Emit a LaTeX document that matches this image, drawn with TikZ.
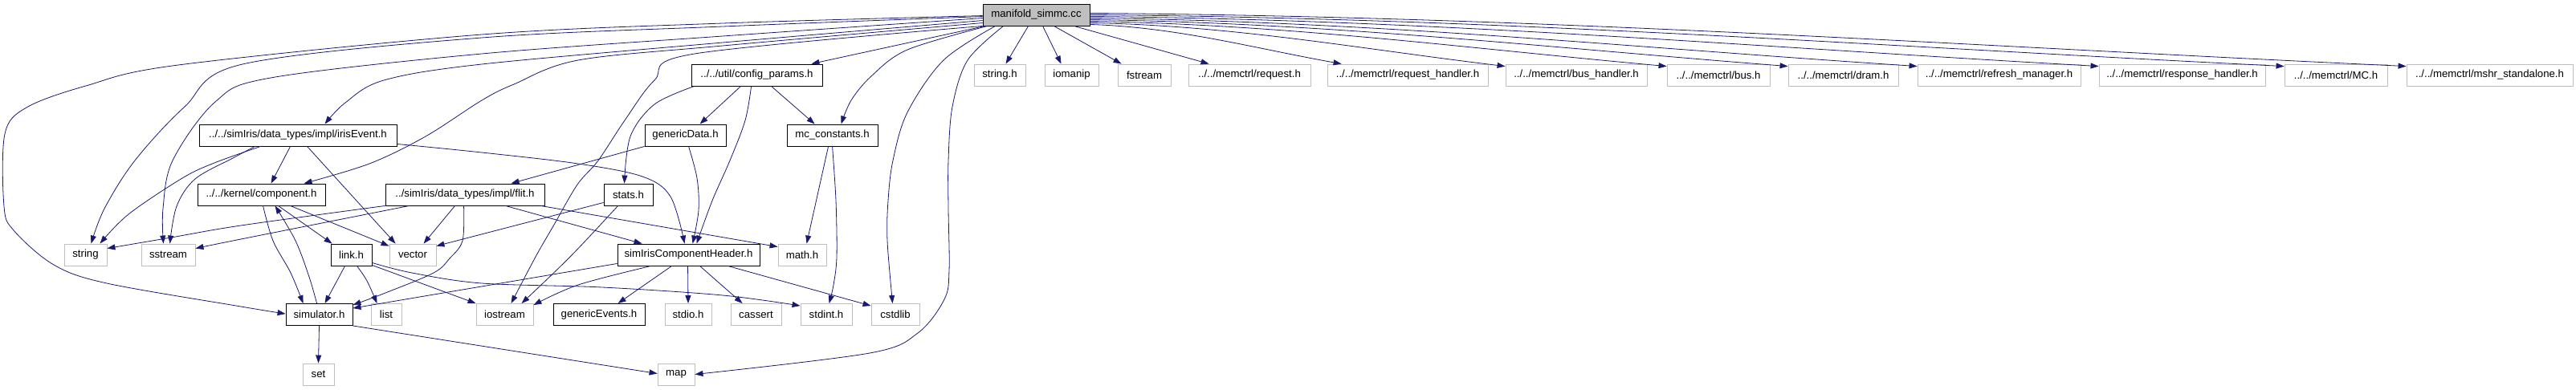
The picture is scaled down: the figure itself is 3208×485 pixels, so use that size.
\documentclass[tikz,border=0pt]{standalone}
\usepackage{fontspec}
\setmainfont{Liberation Sans}
\usetikzlibrary{arrows.meta,calc}
\definecolor{edgeblue}{RGB}{25,25,112}
\definecolor{boxgray}{RGB}{191,191,191}
\begin{document}
\begin{tikzpicture}[x=1pt,y=-1pt,
  box/.style={draw=black,line width=0.9pt,minimum height=27pt,inner sep=0pt,font=\fontsize{13.2}{15}\selectfont},
  gbox/.style={box,draw=boxgray},
  edge/.style={draw=edgeblue,line width=0.8pt,-{Triangle[length=10pt,width=7pt]}},
  sm/.style={smooth,tension=0.55}]
\useasboundingbox (0,0) rectangle (3208,485);
% row 0
\node[box,fill=boxgray,minimum width=133pt] (manifold) at (1290.5,18.5) {manifold\_simmc.cc};
% row 1
\node[box,minimum width=163pt] (config) at (942.5,93.5) {../../util/config\_params.h};
\node[gbox,minimum width=64pt] (stringh) at (1245,93.5) {string.h};
\node[gbox,minimum width=67pt] (iomanip) at (1334.5,93.5) {iomanip};
\node[gbox,minimum width=66pt] (fstream) at (1425,93.5) {fstream};
\node[gbox,minimum width=152pt] (request) at (1556,93.5) {../../memctrl/request.h};
\node[gbox,minimum width=200pt] (reqhandler) at (1753,93.5) {../../memctrl/request\_handler.h};
\node[gbox,minimum width=176pt] (bushandler) at (1963,93.5) {../../memctrl/bus\_handler.h};
\node[gbox,minimum width=128pt] (bus) at (2140,93.5) {../../memctrl/bus.h};
\node[gbox,minimum width=137pt] (dram) at (2295.5,93.5) {../../memctrl/dram.h};
\node[gbox,minimum width=203pt] (refresh) at (2489.5,93.5) {../../memctrl/refresh\_manager.h};
\node[gbox,minimum width=207pt] (response) at (2717.5,93.5) {../../memctrl/response\_handler.h};
\node[gbox,minimum width=128pt] (mc) at (2909,93.5) {../../memctrl/MC.h};
\node[gbox,minimum width=207pt] (mshr) at (3100.5,93.5) {../../memctrl/mshr\_standalone.h};
% row 2
\node[box,minimum width=246pt] (irisEvent) at (371,168.5) {../../simIris/data\_types/impl/irisEvent.h};
\node[box,minimum width=101pt] (genericData) at (853.5,168.5) {genericData.h};
\node[box,minimum width=113pt] (mcconst) at (1036.5,168.5) {mc\_constants.h};
% row 3
\node[box,minimum width=159pt] (component) at (325.5,242.5) {../../kernel/component.h};
\node[box,minimum width=198pt] (flit) at (579,242.5) {../simIris/data\_types/impl/flit.h};
\node[box,minimum width=61pt] (stats) at (782.5,242.5) {stats.h};
% row 4
\node[gbox,minimum width=53pt] (string) at (106.5,317.5) {string};
\node[gbox,minimum width=67pt] (sstream) at (209.5,317.5) {sstream};
\node[box,minimum width=51pt] (link) at (437.5,317.5) {link.h};
\node[gbox,minimum width=58pt] (vector) at (514,317.5) {vector};
\node[box,minimum width=177pt] (simiris) at (857.5,317.5) {simIrisComponentHeader.h};
\node[gbox,minimum width=60pt] (math) at (999,317.5) {math.h};
% row 5
\node[box,minimum width=83pt] (simulator) at (397.5,392) {simulator.h};
\node[gbox,minimum width=38pt] (list) at (481,392) {list};
\node[gbox,minimum width=71pt] (iostream) at (628.5,392) {iostream};
\node[box,minimum width=114pt] (genericEvents) at (746,392) {genericEvents.h};
\node[gbox,minimum width=58pt] (stdio) at (857,392) {stdio.h};
\node[gbox,minimum width=63pt] (cassert) at (941.5,392) {cassert};
\node[gbox,minimum width=64pt] (stdint) at (1029,392) {stdint.h};
\node[gbox,minimum width=60pt] (cstdlib) at (1115,392) {cstdlib};
% row 6
\node[gbox,minimum width=39pt] (set) at (396.5,466.5) {set};
\node[gbox,minimum width=46pt] (map) at (842,466.5) {map};

% ---- edges from manifold_simmc.cc (left / down)
\draw[edge] plot[sm] coordinates {($(manifold.north west)+(0,15)$) (900,29) (600,43) (222,81) (107,107) (33,134) (6,167) (5,257) (17,287) (67,330) (133,353) (300,382) ($(simulator.north west)+(0,13)$)};
\draw[edge] plot[sm] coordinates {($(manifold.north west)+(0,16)$) (900,33) (600,47) (302,80) (230,133) (168,200) (130,260) ($(string.north west)+(34,0)$)};
\draw[edge] plot[sm] coordinates {($(manifold.north west)+(0,18)$) (900,45) (600,67) (337,97) (268,127) (215,200) (203,260) ($(sstream.north west)+(28,0)$)};
\draw[edge] plot[sm] coordinates {($(manifold.north west)+(0,21)$) (900,53) (600,80) (478,100) (430,128) ($(irisEvent.north west)+(157,0)$)};
\draw[edge] plot[sm] coordinates {($(manifold.north west)+(0,24)$) (900,57) (720,75) (640,105) (600,125) (530,170) (460,204) ($(component.north west)+(133,0)$)};
\draw[edge] plot[sm] coordinates {(manifold.south west) (865,67) (815,100) (778,150) (745,200) (719,230) (690,280) (667,320) ($(iostream.north west)+(44,0)$)};
\draw[edge] ($(manifold.south west)+(3,0)$) -- ($(config.north east)+(-14,0)$);
\draw[edge] plot[sm] coordinates {($(manifold.south west)+(6,0)$) (1130,62) (1085,95) (1060,125) ($(mcconst.north west)+(68,0)$)};
\draw[edge] plot[sm] coordinates {($(manifold.south west)+(16,0)$) (1175,75) (1130,140) (1112,200) (1106,250) (1105,300) ($(cstdlib.north west)+(27,0)$)};
\draw[edge] plot[sm] coordinates {($(manifold.south west)+(26,0)$) (1205,75) (1186,133) (1181,200) (1181,260) (1182,337) (1176,373) (1143,415) (1083,440) (map.east)};
% ---- edges from manifold_simmc.cc (right)
\draw[edge] ($(manifold.south west)+(57,0)$) -- ($(stringh.north west)+(40,0)$);
\draw[edge] ($(manifold.south west)+(75,0)$) -- ($(iomanip.north west)+(21,0)$);
\draw[edge] ($(manifold.south west)+(89,0)$) -- ($(fstream.north west)+(5,0)$);
\draw[edge] ($(manifold.south west)+(114,0)$) -- ($(request.north west)+(26,0)$);
\draw[edge] ($(manifold.south east)+(0,-2)$) .. controls (1467,34) and (1561,60) .. ($(reqhandler.north west)+(18,0)$);
\draw[edge] ($(manifold.south east)+(0,-4)$) .. controls (1538,32) and (1694,61) .. ($(bushandler.north west)+(0,3)$);
\draw[edge] ($(manifold.south east)+(0,-6)$) .. controls (1609,31) and (1824,60) .. ($(bus.north west)+(0,3)$);
\draw[edge] ($(manifold.south east)+(0,-8)$) .. controls (1662,29) and (1922,59) .. ($(dram.north west)+(0,3)$);
\draw[edge] ($(manifold.south east)+(0,-10)$) .. controls (1718,27) and (2027,59) .. ($(refresh.north west)+(0,3)$);
\draw[edge] ($(manifold.south east)+(0,-12)$) .. controls (1797,25) and (2174,58) .. ($(response.north west)+(0,3)$);
\draw[edge] ($(manifold.south east)+(0,-14)$) .. controls (1878,23) and (2324,57) .. ($(mc.north west)+(0,3)$);
\draw[edge] ($(manifold.south east)+(0,-16)$) .. controls (1931,21) and (2423,56) .. ($(mshr.north west)+(0,3)$);

% ---- config_params.h
\draw[edge] ($(config.south west)+(62,0)$) -- ($(genericData.north west)+(69,0)$);
\draw[edge] ($(config.south west)+(100,0)$) -- ($(mcconst.north west)+(35,0)$);
\draw[edge] plot[sm] coordinates {($(config.south west)+(4,0)$) (815,130) (785,170) ($(stats.north west)+(26,0)$)};
\draw[edge] plot[sm] coordinates {($(config.south west)+(75,0)$) (928,150) (909,200) (887,250) ($(simiris.north west)+(99,0)$)};

% ---- irisEvent.h
\draw[edge] ($(irisEvent.south west)+(114,0)$) -- ($(component.north west)+(92,0)$);
\draw[edge] plot[sm] coordinates {($(irisEvent.south west)+(77,0)$) (267,203) (227,222) (160,267) ($(string.north west)+(45,0)$)};
\draw[edge] plot[sm] coordinates {($(irisEvent.south west)+(70,0)$) (290,197) (243,223) (220,257) ($(sstream.north west)+(36,0)$)};
\draw[edge] ($(irisEvent.south west)+(135,0)$) -- ($(vector.north west)+(8,0)$);
\draw[edge] plot[sm] coordinates {($(irisEvent.south east)+(0,-3)$) (600,190) (720,204) (800,220) (835,245) ($(simiris.north west)+(84,0)$)};

% ---- genericData.h
\draw[edge] (genericData.south west) -- ($(flit.north west)+(157,0)$);
\draw[edge] plot[sm] coordinates {($(genericData.south west)+(55,0)$) (868,222) (870,262) ($(simiris.north west)+(94,0)$)};

% ---- mc_constants.h
\draw[edge] ($(mcconst.south west)+(52,0)$) -- ($(math.north west)+(36,0)$);
\draw[edge] plot[sm] coordinates {($(mcconst.south west)+(57,0)$) (1041,250) (1042,320) (1038,355) ($(stdint.north west)+(36,0)$)};

% ---- component.h
\draw[edge] ($(component.south west)+(101,0)$) -- ($(link.north west)+(2,0)$);
\draw[edge] ($(component.south west)+(116,0)$) -- ($(vector.north west)+(0,3)$);
\draw[edge] plot[sm] coordinates {($(component.south west)+(82,0)$) (340,300) (362,340) ($(simulator.north west)+(22,0)$)};

% ---- simulator.h
\draw[edge] plot[sm] coordinates {($(simulator.north west)+(39,0)$) (385,345) (368,300) ($(component.south west)+(97,0)$)};
\draw[edge] (simulator.south) -- (set.north);
\draw[edge] (simulator.south east) -- ($(map.west)+(0,-1)$);

% ---- flit.h
\draw[edge] plot[sm] coordinates {(flit.south west) (300,281) (213,296) ($(string.north east)+(0,6)$)};
\draw[edge] plot[sm] coordinates {($(flit.south west)+(30,0)$) (300,298) ($(sstream.north east)+(0,6)$)};
\draw[edge] ($(flit.south west)+(87,0)$) -- ($(vector.north west)+(43,0)$);
\draw[edge] plot[sm] coordinates {($(flit.south west)+(98,0)$) (576,300) (560,322) (540,340) (480,365) ($(simulator.north east)+(0,2)$)};
\draw[edge] ($(flit.south west)+(150,0)$) -- ($(simiris.north west)+(31,0)$);
\draw[edge] ($(flit.south east)+(-5,0)$) -- ($(math.north west)+(0,4)$);

% ---- stats.h
\draw[edge] ($(stats.south west)+(0,-4)$) -- ($(vector.north east)+(0,3)$);
\draw[edge] plot[sm] coordinates {($(stats.south west)+(18,0)$) (710,320) ($(iostream.north west)+(57,0)$)};

% ---- link.h
\draw[edge] ($(link.south west)+(18,0)$) -- ($(simulator.north west)+(49,0)$);
\draw[edge] plot[sm] coordinates {($(link.south west)+(33,0)$) (457,350) ($(list.north west)+(8,0)$)};
\draw[edge] ($(link.south east)+(0,-1)$) -- (iostream.north west);
\draw[edge] plot[sm] coordinates {($(link.south east)+(0,-4)$) (513,340) (600,353) (750,358) (900,368) ($(stdint.north west)+(0,3)$)};

% ---- simIrisComponentHeader.h
\draw[edge] ($(simiris.south west)+(0,-3)$) -- ($(simulator.north east)+(0,6)$);
\draw[edge] plot[sm] coordinates {($(simiris.south west)+(42,0)$) (720,355) ($(iostream.north east)+(0,2)$)};
\draw[edge] ($(simiris.south west)+(68,0)$) -- ($(genericEvents.north west)+(81,0)$);
\draw[edge] ($(simiris.south west)+(88,0)$) -- (stdio.north);
\draw[edge] ($(simiris.south west)+(103,0)$) -- ($(cassert.north west)+(15,0)$);
\draw[edge] ($(simiris.south west)+(138,0)$) -- ($(cstdlib.north west)+(0,3)$);
\end{tikzpicture}
\end{document}
